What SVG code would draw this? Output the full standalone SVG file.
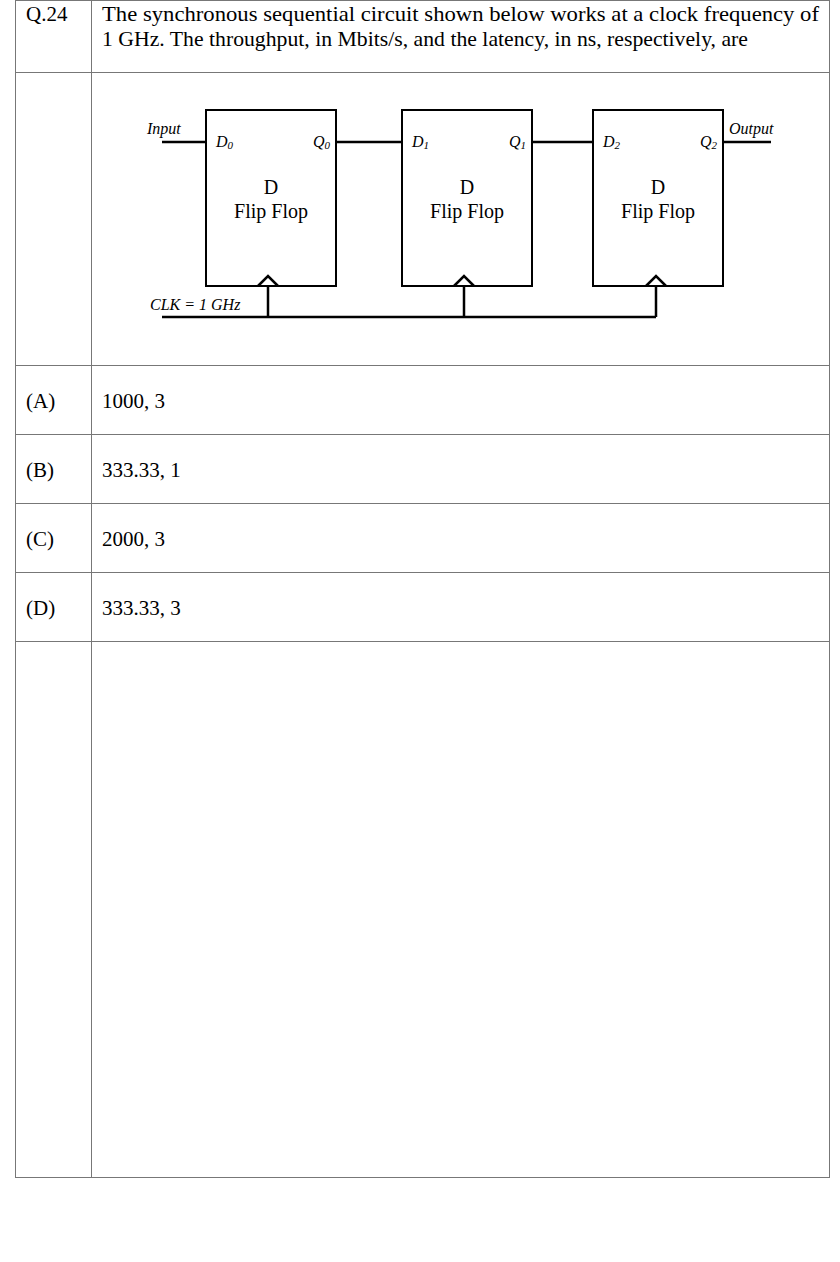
<svg xmlns="http://www.w3.org/2000/svg" width="840" height="1262" viewBox="0 0 840 1262">
<style>
.t{font-family:"Liberation Serif",serif;font-size:21px;fill:#000}
.i{font-family:"Liberation Serif",serif;font-style:italic;font-size:16px;fill:#000}
.g{stroke:#777;stroke-width:1;fill:none}
.w{stroke:#000;stroke-width:2.5;fill:none}
.b{stroke:#000;stroke-width:2;fill:#fff}
.c{font-family:"Liberation Serif",serif;font-size:20px;fill:#000;text-anchor:middle}
</style>
<rect width="840" height="1262" fill="#fff"/>
<g id="table" class="g">
<rect x="15.5" y="0.5" width="814" height="1177"/>
<line x1="91.5" y1="0" x2="91.5" y2="1177"/>
<line x1="15" y1="72.5" x2="830" y2="72.5"/>
<line x1="15" y1="365.5" x2="830" y2="365.5"/>
<line x1="15" y1="434.5" x2="830" y2="434.5"/>
<line x1="15" y1="503.5" x2="830" y2="503.5"/>
<line x1="15" y1="572.5" x2="830" y2="572.5"/>
<line x1="15" y1="641.5" x2="830" y2="641.5"/>
</g>
<g id="texts">
<text class="t" x="26" y="21">Q.24</text>
<text class="t" x="102" y="21" textLength="717" lengthAdjust="spacingAndGlyphs">The synchronous sequential circuit shown below works at a clock frequency of</text>
<text class="t" x="102" y="46" textLength="646" lengthAdjust="spacingAndGlyphs">1 GHz. The throughput, in Mbits/s, and the latency, in ns, respectively, are</text>
<text class="t" x="26" y="408">(A)</text><text class="t" x="102" y="408">1000, 3</text>
<text class="t" x="26" y="477">(B)</text><text class="t" x="102" y="477">333.33, 1</text>
<text class="t" x="26" y="546">(C)</text><text class="t" x="102" y="546">2000, 3</text>
<text class="t" x="26" y="615">(D)</text><text class="t" x="102" y="615">333.33, 3</text>
</g>
<g id="connectors" class="w">
<line x1="162" y1="142" x2="206" y2="142"/>
<line x1="336" y1="142" x2="402" y2="142"/>
<line x1="532" y1="142" x2="593" y2="142"/>
<line x1="723" y1="142" x2="771" y2="142"/>
<polyline points="162,317 656,317"/>
<line x1="268" y1="280" x2="268" y2="317"/>
<line x1="464" y1="280" x2="464" y2="317"/>
<line x1="656" y1="280" x2="656" y2="317"/>
</g>
<g id="ff0"><rect class="b" x="206" y="110" width="130" height="176"/><polyline class="w" points="258,286 268,276 278,286"/>
<text class="i" x="216" y="147">D<tspan font-size="11" dy="2">0</tspan></text><text class="i" x="313" y="147">Q<tspan font-size="11" dy="2">0</tspan></text>
<text class="c" x="271" y="194">D</text><text class="c" x="271" y="218">Flip Flop</text></g>
<g id="ff1"><rect class="b" x="402" y="110" width="130" height="176"/><polyline class="w" points="454,286 464,276 474,286"/>
<text class="i" x="412" y="147">D<tspan font-size="11" dy="2">1</tspan></text><text class="i" x="509" y="147">Q<tspan font-size="11" dy="2">1</tspan></text>
<text class="c" x="467" y="194">D</text><text class="c" x="467" y="218">Flip Flop</text></g>
<g id="ff2"><rect class="b" x="593" y="110" width="130" height="176"/><polyline class="w" points="646,286 656,276 666,286"/>
<text class="i" x="603" y="147">D<tspan font-size="11" dy="2">2</tspan></text><text class="i" x="700" y="147">Q<tspan font-size="11" dy="2">2</tspan></text>
<text class="c" x="658" y="194">D</text><text class="c" x="658" y="218">Flip Flop</text></g>
<g id="labels">
<text class="i" x="147" y="134">Input</text>
<text class="i" x="729" y="134">Output</text>
<text class="i" x="150" y="310">CLK = 1 GHz</text>
</g>
</svg>
